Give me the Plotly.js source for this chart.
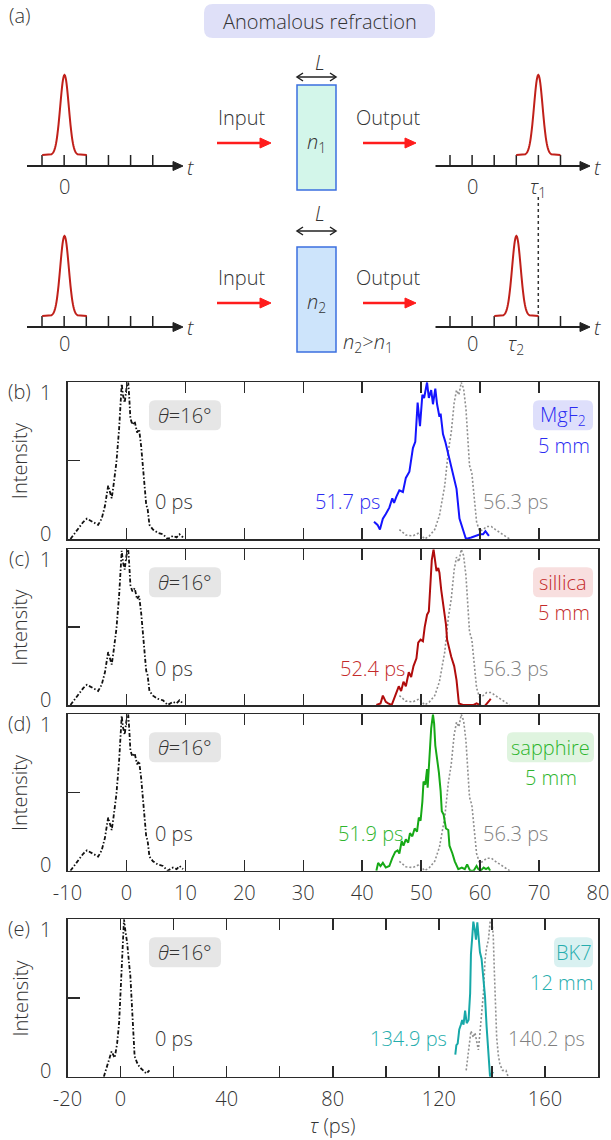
<!DOCTYPE html>
<html><head><meta charset="utf-8">
<script src="https://cdn.plot.ly/plotly-3.0.1.min.js"></script>
<style>html,body{margin:0;padding:0;background:#fff;}#chart{width:611px;height:1140px;}</style>
</head><body><div id="chart"></div>
<script>
// ---------------- data ----------------
// reference pulse (0 ps), panels b-d
const refTau = [-9.5,-8.7,-7.9,-7.3,-6.7,-6.2,-5.6,-4.8,-4.2,-3.65,-3.1,-2.8,-2.5,-2.2,-1.7,-1.25,-0.95,-0.8,-0.6,-0.3,0.0,0.3,0.45,0.67,1.0,1.4,1.8,2.15,2.5,2.9,3.35,3.6,3.9,4.5,5.3,6.2,7.0,7.9,8.5,9.0,9.6];
const refInt = [0.00,0.04,0.08,0.11,0.13,0.12,0.11,0.09,0.13,0.21,0.34,0.30,0.26,0.34,0.49,0.70,0.90,0.99,0.92,0.87,0.96,1.00,0.92,0.77,0.73,0.75,0.68,0.70,0.59,0.43,0.22,0.19,0.09,0.06,0.04,0.03,0.00,0.02,0.01,0.03,0.01];
// normal refraction (56.3 ps), panels b-d
const normTau = [46.3,47.4,48.6,49.7,50.6,51.4,52.3,53.1,54.0,54.6,55.1,55.6,56.0,56.4,56.8,57.2,57.6,57.9,58.2,58.6,59.0,59.4,59.9,60.5,61.1,61.9,62.6,63.4,64.2,65.0];
const normInt = [0.06,0.025,0.02,0.04,0.0,0.02,0.06,0.15,0.34,0.56,0.68,0.87,0.95,0.92,1.0,0.96,0.83,0.62,0.47,0.42,0.24,0.11,0.05,0.06,0.08,0.08,0.06,0.04,0.02,0.0];
// MgF2 5 mm (51.7 ps)
const mgTau = [42.0,42.6,43.0,43.5,44.0,44.6,45.1,45.4,45.8,46.3,46.9,47.4,48.0,48.6,49.0,49.4,49.8,50.2,50.5,51.0,51.3,51.7,52.0,52.4,52.7,53.1,53.3,53.7,54.1,54.5,55.0,55.6,56.0,56.5,57.1,57.6,58.5,59.4,60.0,60.5,60.9,61.3,61.5];
const mgInt = [0.11,0.09,0.06,0.13,0.16,0.20,0.26,0.23,0.27,0.31,0.30,0.39,0.43,0.58,0.62,0.87,0.72,0.92,0.90,1.0,0.90,0.95,0.86,0.96,0.86,0.78,0.80,0.67,0.62,0.56,0.47,0.39,0.32,0.13,0.06,0.0,0.01,0.02,0.03,0.03,0.05,0.03,0.02];
// silica 5 mm (52.4 ps)
const siTau = [42.4,43.1,43.5,44.0,44.4,45.0,45.7,46.2,46.6,47.0,47.4,47.9,48.3,48.7,49.2,49.5,49.9,50.3,50.6,51.0,51.3,51.5,51.8,52.1,52.3,52.6,52.9,53.1,53.4,53.8,54.2,54.4,54.7,55.1,55.6,56.0,56.4,57.1,58.0,58.9,59.4,60.0,60.5,61.0,61.6,61.8];
const siInt = [0.0,0.01,0.06,0.02,0.01,0.0,0.07,0.12,0.09,0.15,0.12,0.21,0.18,0.25,0.30,0.40,0.42,0.41,0.50,0.58,0.60,0.74,0.93,1.0,0.93,0.86,0.88,0.85,0.74,0.64,0.52,0.42,0.37,0.31,0.25,0.16,0.01,0.0,0.0,0.0,0.01,0.0,-0.02,0.0,0.03,0.04];
// sapphire 5 mm (51.9 ps)
const saTau = [42.4,42.7,43.1,43.5,44.0,44.6,45.1,45.6,46.0,46.3,46.7,47.0,47.4,47.8,48.1,48.5,48.9,49.3,49.6,49.9,50.2,50.4,50.7,51.0,51.1,51.4,51.7,52.0,52.2,52.4,52.7,53.0,53.3,53.5,53.8,54.2,54.6,54.8,55.3,55.7,56.3,56.9,57.4,57.8,58.3,58.9,59.4,59.7,60.1,60.6,61.0,61.4,61.7];
const saInt = [0.0,0.05,0.03,0.05,0.02,0.03,0.08,0.12,0.13,0.11,0.19,0.16,0.20,0.18,0.24,0.22,0.27,0.25,0.34,0.32,0.44,0.57,0.55,0.65,0.53,0.76,0.91,1.0,0.94,0.80,0.72,0.63,0.51,0.38,0.36,0.27,0.26,0.16,0.11,0.06,0.01,0.02,0.01,0.04,0.0,0.0,0.03,0.01,0.0,0.02,0.01,0.02,0.0];
// panel e: reference, normal (140.2 ps), BK7 12 mm (134.9 ps)
const refETau = [-6.3,-5.3,-4.3,-3.4,-2.2,-1.3,-0.55,-0.05,0.45,0.95,1.3,1.8,2.5,3.2,3.7,4.1,4.7,5.3,6.2,7.2,8.5,9.7,10.9];
const refEInt = [0.0,0.06,0.12,0.16,0.12,0.21,0.34,0.53,0.76,0.95,1.0,0.93,0.85,0.72,0.64,0.51,0.28,0.13,0.09,0.06,0.04,0.02,0.04];
const normETau = [130.3,130.8,131.4,132.1,133.0,133.6,134.2,134.9,135.5,136.1,136.8,137.4,138.0,138.7,139.3,139.9,140.5,140.9,141.3,141.8,142.4,143.0,144.0,145.3,146.1];
const normEInt = [0.04,0.12,0.21,0.29,0.25,0.28,0.23,0.17,0.28,0.42,0.53,0.74,0.82,0.87,0.98,1.0,0.90,0.68,0.46,0.25,0.14,0.08,0.04,0.04,0.0];
const bkTau = [126.2,126.6,127.1,127.7,128.3,128.8,129.3,129.9,130.5,131.2,131.8,132.1,132.6,133.0,133.6,134.0,134.5,134.9,135.5,136.1,136.8,137.4,138.0,138.7,139.3,139.9,140.5];
const bkInt = [0.14,0.20,0.21,0.30,0.33,0.36,0.33,0.42,0.34,0.36,0.53,0.78,0.89,0.985,0.93,0.87,0.98,0.88,0.79,0.75,0.62,0.51,0.32,0.13,0.0,0.02,0.03];
// tick labels
const tickValsBD = [-10,0,10,20,30,40,50,60,70,80];
const tickTextBD = ['-10','0','10','20','30','40','50','60','70','80'];
const tickValsE = [-20,0,40,80,120,160];
const tickTextE = ['-20','0','40','80','120','160'];
const minorValsE = [20,60,100,140,180];
// panel texts
const panelLabels = ['(b)','(c)','(d)','(e)'];
const delayRef = '0 ps';
const delaySample = ['51.7 ps','52.4 ps','51.9 ps','134.9 ps'];
const delayNormal = ['56.3 ps','56.3 ps','56.3 ps','140.2 ps'];
const materials = ['MgF<sub>2</sub>','sillica','sapphire','BK7'];
const thicknesses = ['5 mm','5 mm','5 mm','12 mm'];

// ---------------- styles ----------------
const FONT = 'Open Sans, sans-serif';
const TXT = '#333333';
const W = 611, H = 1140;
const lineCol = ['#1414ff','#b00c0c','#16a916','#17a8a8'];
const txtCol  = ['#2b2bf2','#c42a2a','#2db52d','#25adad'];
const boxCol  = ['#dedffb','#f8dfdf','#dff4df','#d9f1f1'];
const grayLine = '#8f8f8f', grayTxt = '#7f7f7f';

// panel pixel geometry
const PX0 = 67.5, PX1 = 598;
const TOP = [382.3, 549.3, 714.3, 919.3];
const BOT = [539, 705, 870.7, 1076.7];
const dom = i => [1 - BOT[i]/H, 1 - TOP[i]/H];

const refStyle = {color:'#111', width:1.8, dash:'4px,2px,1.5px,2px'};
const normStyle = {color:grayLine, width:1.6, dash:'2px,2px'};

const traces = [];
const ax = ['x','x2','x3','x4'], ay = ['y','y2','y3','y4'];
const sampleT = [mgTau, siTau, saTau, bkTau], sampleI = [mgInt, siInt, saInt, bkInt];
for (let i = 0; i < 4; i++) {
  const e = i === 3;
  traces.push({type:'scatter', mode:'lines', x: e?refETau:refTau, y: e?refEInt:refInt, xaxis:ax[i], yaxis:ay[i], line:refStyle, showlegend:false, hoverinfo:'skip'});
  traces.push({type:'scatter', mode:'lines', x: e?normETau:normTau, y: e?normEInt:normInt, xaxis:ax[i], yaxis:ay[i], line:normStyle, showlegend:false, hoverinfo:'skip'});
  traces.push({type:'scatter', mode:'lines', x: sampleT[i], y: sampleI[i], xaxis:ax[i], yaxis:ay[i], line:{color:lineCol[i], width:2}, showlegend:false, hoverinfo:'skip'});
}
// overlay (pixel) subplot for schematic + labels
traces.push({type:'scatter', mode:'lines', x:[], y:[], xaxis:'x5', yaxis:'y5', showlegend:false, hoverinfo:'skip'});

const layout = {
  width:W, height:H, margin:{l:0,r:0,t:0,b:0},
  paper_bgcolor:'#fff', plot_bgcolor:'rgba(0,0,0,0)',
  font:{family:FONT, size:20, color:TXT, weight:300},
  showlegend:false,
  shapes:[], annotations:[]
};
function xAxisCfg(i){
  const e = i === 3, d = i === 2;
  const cfg = {domain:[PX0/W, PX1/W], range: e?[-20,180]:[-10,80], anchor: ay[i],
    showline:true, mirror:'ticks', linecolor:'#2a2a2a', linewidth:1.5,
    ticks:'inside', ticklen:11, tickwidth:1.5, tickcolor:'#2a2a2a',
    tickmode:'array', tickvals: e?tickValsE:tickValsBD, ticktext: e?tickTextE:tickTextBD,
    showticklabels: e||d, tickfont:{size:20, color:TXT}, ticklabelstandoff: 4, ticklabeloverflow:'allow',
    showgrid:false, zeroline:false, fixedrange:true};
  if (e) {
    cfg.minor = {tickmode:'array', tickvals:minorValsE, ticks:'inside', ticklen:11, tickwidth:1.5, tickcolor:'#2a2a2a', showgrid:false};
    cfg.title = {text:'<i>τ</i> (ps)', font:{size:20, color:TXT}, standoff:4};
  }
  return cfg;
}
function yAxisCfg(i){
  return {domain:dom(i), range:[0,1], anchor: ax[i], showline:true, mirror:true,
    linecolor:'#2a2a2a', linewidth:1.5, ticks:'inside', ticklen:12, tickwidth:1.5, tickcolor:'#2a2a2a',
    tickmode:'array', tickvals:[0.5], showticklabels:false, showgrid:false, zeroline:false, fixedrange:true};
}
layout.xaxis = xAxisCfg(0); layout.yaxis = yAxisCfg(0);
layout.xaxis2 = xAxisCfg(1); layout.yaxis2 = yAxisCfg(1);
layout.xaxis3 = xAxisCfg(2); layout.yaxis3 = yAxisCfg(2);
layout.xaxis4 = xAxisCfg(3); layout.yaxis4 = yAxisCfg(3);
layout.xaxis5 = {domain:[0,1], range:[0,W], visible:false, fixedrange:true, anchor:'y5'};
layout.yaxis5 = {domain:[0,1], range:[H,0], visible:false, fixedrange:true, anchor:'x5'};

// helpers in pixel space
const S = layout.shapes, A = layout.annotations;
function txt(x, y, text, o={}) {
  A.push(Object.assign({xref:'x5', yref:'y5', x, y, text, showarrow:false, xanchor:'center', yanchor:'middle',
    font:{family:FONT, size:20, color:TXT, weight:300}}, o));
}
function rrect(x0,y0,x1,y1,r,fill){
  S.push({type:'path', xref:'x5', yref:'y5', layer:'below', fillcolor:fill, line:{width:0},
    path:`M${x0+r},${y0} L${x1-r},${y0} Q${x1},${y0} ${x1},${y0+r} L${x1},${y1-r} Q${x1},${y1} ${x1-r},${y1} L${x0+r},${y1} Q${x0},${y1} ${x0},${y1-r} L${x0},${y0+r} Q${x0},${y0} ${x0+r},${y0} Z`});
}
function seg(x0,y0,x1,y1,color,width,dash){
  S.push({type:'line', xref:'x5', yref:'y5', x0,y0,x1,y1, line:{color, width, dash: dash||'solid'}});
}
function head(xt, y, len, half, color){
  S.push({type:'path', xref:'x5', yref:'y5', fillcolor:color, line:{color, width:1},
    path:`M${xt},${y} L${xt-len},${y-half} L${xt-len},${y+half} Z`});
}
function pulse(cx, by, h, s, half){
  let d = `M${cx-half},${by}`;
  for (let k = -13; k <= 13; k += 0.5) d += ` L${cx+k},${(by - h*Math.exp(-k*k/(2*s*s))).toFixed(2)}`;
  d += ` L${cx+half},${by}`;
  S.push({type:'path', xref:'x5', yref:'y5', line:{color:'#c0201a', width:2}, path:d});
}
function timeAxis(x0, x1, y, t0, dt){
  seg(x0, y, x1-6, y, '#222', 2);
  head(x1, y, 10, 4.5, '#222');
  for (let k = 0; k < 6; k++) seg(t0+k*dt, y, t0+k*dt, y-11, '#222', 1.5);
}
function redArrow(x0, x1, y){
  seg(x0, y, x1-8, y, '#ff1c1c', 2.5);
  head(x1, y, 11, 5, '#ff1c1c');
}
function dblArrow(x0, x1, y){
  seg(x0, y, x1, y, '#222', 1.5);
  S.push({type:'path', xref:'x5', yref:'y5', line:{color:'#222', width:1.5},
    path:`M${x0+6},${y-4} L${x0},${y} L${x0+6},${y+4} M${x1-6},${y-4} L${x1},${y} L${x1-6},${y+4}`});
}

// ---------------- panel (a): schematic ----------------
txt(19, 15, '(a)');
rrect(204, 4, 435, 38, 9, '#dfe0f8');
txt(319.5, 21, 'Anomalous refraction');
// row 1
timeAxis(27, 183, 166, 42, 22.15); pulse(64.5, 155, 80, 4.3, 22.3);
timeAxis(435.5, 590, 166, 450, 22.1); pulse(538.3, 155, 80, 4.3, 22.1);
// row 2
timeAxis(27, 183, 327, 42, 22.15); pulse(64.5, 316, 80, 4.3, 22.3);
timeAxis(435.5, 590, 327, 450, 22.1); pulse(516.4, 316, 80, 4.3, 22.1);
seg(538.3, 197, 538.3, 316, '#333', 1.5, 'dot');
redArrow(217, 271, 143); redArrow(363, 416, 143);
redArrow(217, 271, 303); redArrow(363, 416, 303);
dblArrow(297, 336, 77); dblArrow(297, 336, 231);
S.push({type:'rect', xref:'x5', yref:'y5', x0:297, x1:336, y0:85, y1:190, fillcolor:'#d3f6ea', line:{color:'#3b6fe0', width:1.5}});
S.push({type:'rect', xref:'x5', yref:'y5', x0:297, x1:336, y0:247, y1:352, fillcolor:'#cde4fb', line:{color:'#3b6fe0', width:1.5}});
txt(319.5, 62, '<i>L</i>'); txt(319.5, 213, '<i>L</i>');
txt(316.5, 142, '<i>n</i><sub>1</sub>'); txt(316.5, 302, '<i>n</i><sub>2</sub>');
txt(368, 342, '<i>n</i><sub>2</sub>&gt;<i>n</i><sub>1</sub>');
txt(242, 117, 'Input'); txt(242, 277, 'Input');
txt(388, 117, 'Output'); txt(388, 277, 'Output');
[[190,167],[597,167],[190,327],[597,327]].forEach(p => txt(p[0], p[1], '<i>t</i>'));
txt(64.5, 186, '0'); txt(472.7, 186, '0'); txt(64.5, 343, '0'); txt(472.7, 343, '0');
txt(538.3, 187, '<i>τ</i><sub>1</sub>'); txt(516.4, 344, '<i>τ</i><sub>2</sub>');

// ---------------- panels (b)-(e) labels ----------------
const sampleCx = [347, 372, 370, 408];
const normCx = [515.5, 515.5, 515.5, 546];
const matBox = [[533,593],[533,593],[507,594],[554,593]];
const thickCx = [563.5, 563.5, 550.5, 561.5];
for (let i = 0; i < 4; i++) {
  const T = TOP[i], B = BOT[i];
  txt(19, T+9.5, panelLabels[i]);
  txt(45, T+10, '1'); txt(45, B-6, '0');
  txt(19.5, (T+B)/2, 'Intensity', {textangle:-90});
  rrect(149, T+18, 221, T+48, 6, '#e6e6e6');
  txt(185, T+33, '<i>θ</i>=16°');
  txt(174, T+119, delayRef);
  txt(sampleCx[i], T+119, delaySample[i], {font:{family:FONT, size:20, color:txtCol[i], weight:300}});
  txt(normCx[i], T+119, delayNormal[i], {font:{family:FONT, size:20, color:grayTxt, weight:300}});
  rrect(matBox[i][0], T+18, matBox[i][1], T+48, 6, boxCol[i]);
  txt((matBox[i][0]+matBox[i][1])/2, T+33, materials[i], {font:{family:FONT, size:20, color:txtCol[i], weight:300}});
  txt(thickCx[i], T+63, thicknesses[i], {font:{family:FONT, size:20, color:txtCol[i], weight:300}});
}

Plotly.newPlot('chart', traces, layout, {staticPlot:true, displayModeBar:false});
</script></body></html>
